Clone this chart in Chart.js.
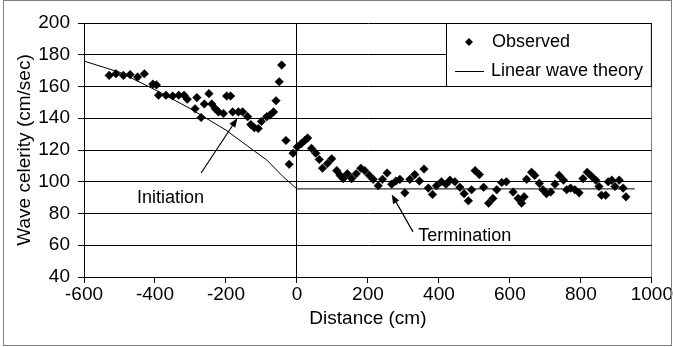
<!DOCTYPE html>
<html>
<head>
<meta charset="utf-8">
<script src="https://cdn.jsdelivr.net/npm/chart.js@4.4.1/dist/chart.umd.min.js"></script>
<style>
  html, body { margin: 0; padding: 0; background: #fff; }
  #wrap { width: 673px; height: 347px; }
</style>
</head>
<body>
<div id="wrap"><canvas id="celerityChart" width="673" height="347"></canvas></div>
<script>
// Observed wave celerity (cm/sec) against distance (cm)
var observedX = [-529, -510, -489, -470, -449, -430, -406, -396, -390, -369, -350, -333, -318, -309,
  -287, -282, -270, -261, -248, -240, -230, -221, -207, -198, -187, -181, -165, -153, -139, -130,
  -120, -109, -100, -85, -76, -66, -59, -50, -43, -31, -22, -11, 1, 12, 22, 30, 41, 53, 63, 72,
  86, 98, 112, 122, 130, 142, 154, 167, 180, 191, 204, 215, 229, 241, 254, 267, 279, 290, 304,
  318, 332, 345, 358, 370, 382, 393, 407, 420, 431, 445, 459, 471, 483, 492, 502, 514, 526, 540,
  552, 563, 577, 590, 609, 623, 633, 640, 647, 661, 670, 683, 693, 703, 715, 727, 739, 751, 760,
  771, 783, 795, 806, 818, 830, 842, 851, 858, 870, 877, 887, 896, 908, 919, 927];
var observedY = [167, 168, 167, 167.5, 166, 168, 161.5, 161, 154.5, 154.5, 154, 154.5, 154.5, 152,
  146, 153, 140.5, 149, 155.5, 149, 146, 144, 143, 154, 154, 144, 144, 144, 141, 136,
  134, 133.5, 138, 141, 142, 144, 151, 163, 173.5, 126, 111, 118, 122, 124, 126, 127.5, 121, 118, 114, 108.5,
  111.5, 114.5, 107, 104, 102, 105, 102, 105, 108.5, 107, 104, 101.5, 97.5, 101.5, 105.5, 98.5, 100.5, 101.5, 93,
  101.5, 104.5, 100.5, 108, 96, 92, 97.5, 100, 98.5, 101, 100, 96.5, 92.5, 88, 95, 107, 104.5, 96.5, 86.5,
  89.5, 95, 99.5, 100, 93.5, 89.5, 86.5, 90.5, 101.5, 106, 104, 99, 95, 92.5, 93.5, 98.5, 104, 101, 95,
  96, 95, 93, 102, 106, 103.5, 101, 97, 91.5, 91.5, 100, 101, 97, 101, 96, 90.5];

// Linear wave theory curve
var theoryX = [-600, -500, -400, -300, -200, -124, -85, -39, 0, 952];
var theoryY = [176, 169, 158, 146, 132.5, 120, 113.7, 103.2, 95.5, 95.5];

// Text notes with arrows (data units)
var noteText = ['Initiation', 'Termination'];
var noteX = [-356, 473];
var noteY = [90, 65.7];
var arrowFromX = [-270, 327];
var arrowFromY = [105.5, 68.4];
var arrowToX = [-168, 267];
var arrowToY = [140, 92];

var seriesNames = ['Observed', 'Linear wave theory'];

var FONT = "'Liberation Sans', Arial, sans-serif";

function toPoints(xs, ys) {
  return xs.map(function(x, i) { return { x: x, y: ys[i] }; });
}

// Arrows and their captions, placed through the scales
var notesPlugin = {
  id: 'notes',
  afterDatasetsDraw: function(chart) {
    var ctx = chart.ctx;
    var xs = chart.scales.x, ys = chart.scales.y;
    ctx.save();
    ctx.strokeStyle = '#000';
    ctx.fillStyle = '#000';
    ctx.lineWidth = 1.2;
    for (var i = 0; i < noteText.length; i++) {
      var x0 = xs.getPixelForValue(arrowFromX[i]), y0 = ys.getPixelForValue(arrowFromY[i]);
      var x1 = xs.getPixelForValue(arrowToX[i]), y1 = ys.getPixelForValue(arrowToY[i]);
      var ang = Math.atan2(y1 - y0, x1 - x0);
      ctx.beginPath();
      ctx.moveTo(x0, y0);
      ctx.lineTo(x1 - 6 * Math.cos(ang), y1 - 6 * Math.sin(ang));
      ctx.stroke();
      ctx.beginPath();
      ctx.moveTo(x1, y1);
      ctx.lineTo(x1 - 9 * Math.cos(ang) + 3.5 * Math.sin(ang), y1 - 9 * Math.sin(ang) - 3.5 * Math.cos(ang));
      ctx.lineTo(x1 - 9 * Math.cos(ang) - 3.5 * Math.sin(ang), y1 - 9 * Math.sin(ang) + 3.5 * Math.cos(ang));
      ctx.closePath();
      ctx.fill();
      ctx.font = '18px ' + FONT;
      ctx.textAlign = 'center';
      ctx.textBaseline = 'middle';
      ctx.fillText(noteText[i], xs.getPixelForValue(noteX[i]), ys.getPixelForValue(noteY[i]));
    }
    ctx.restore();
  }
};

// Boxed legend inside the plot, plus the outer frame
var frameLegendPlugin = {
  id: 'frameLegend',
  afterDraw: function(chart) {
    var ctx = chart.ctx;
    var area = chart.chartArea;
    ctx.save();
    var left = 446.5, top = area.top + 0.5, right = area.right - 0.5, bottom = 86.5;
    ctx.fillStyle = '#fff';
    ctx.fillRect(left, top, right - left, bottom - top);
    ctx.strokeStyle = '#000';
    ctx.lineWidth = 1;
    ctx.strokeRect(left, top, right - left, bottom - top);

    var rowY = [42, 71];
    ctx.font = '18px ' + FONT;
    ctx.textAlign = 'left';
    ctx.textBaseline = 'middle';
    ctx.fillStyle = '#000';
    // diamond marker
    ctx.beginPath();
    ctx.moveTo(469, rowY[0] - 4);
    ctx.lineTo(473, rowY[0]);
    ctx.lineTo(469, rowY[0] + 4);
    ctx.lineTo(465, rowY[0]);
    ctx.closePath();
    ctx.fill();
    ctx.fillText(seriesNames[0], 492, rowY[0]);
    // line sample
    ctx.beginPath();
    ctx.moveTo(455, rowY[1] + 0.5);
    ctx.lineTo(484, rowY[1] + 0.5);
    ctx.stroke();
    ctx.fillText(seriesNames[1], 491, rowY[1]);

    // outer frame
    ctx.strokeStyle = '#808080';
    ctx.strokeRect(3.5, 0.5, 668, 345);
    ctx.restore();
  }
};

var ctx = document.getElementById('celerityChart');
new Chart(ctx, {
  type: 'scatter',
  data: {
    datasets: [
      {
        label: seriesNames[0],
        data: toPoints(observedX, observedY),
        pointStyle: 'rectRot',
        pointRadius: 4.3,
        pointBackgroundColor: '#000',
        pointBorderColor: '#000',
        pointBorderWidth: 0.5,
        showLine: false,
        order: 1
      },
      {
        label: seriesNames[1],
        data: toPoints(theoryX, theoryY),
        showLine: true,
        borderColor: '#000',
        borderWidth: 1,
        pointRadius: 0,
        fill: false,
        tension: 0,
        order: 2
      }
    ]
  },
  options: {
    responsive: false,
    animation: false,
    devicePixelRatio: 1,
    layout: { padding: { left: 0, top: 23, right: 21, bottom: 0 } },
    plugins: {
      legend: { display: false },
      tooltip: { enabled: false }
    },
    scales: {
      x: {
        type: 'linear',
        min: -600,
        max: 1000,
        afterFit: function(s) { s.height = 70; },
        ticks: {
          stepSize: 200,
          color: '#000',
          padding: 0,
          maxRotation: 0,
          font: { family: FONT, size: 19 },
          callback: function(v) { return String(v); }
        },
        grid: {
          color: function(c) {
            if (c.tick && c.tick.value === 0) return '#000';
            if (c.tick && c.tick.value === 1000) return '#808080';
            return 'rgba(0,0,0,0)';
          },
          tickColor: '#000',
          tickLength: 6,
          lineWidth: 1
        },
        border: { color: '#000', width: 1 },
        title: {
          display: true,
          text: 'Distance (cm)',
          color: '#000',
          font: { family: FONT, size: 19 },
          padding: { top: 0, bottom: 17 }
        }
      },
      y: {
        min: 40,
        max: 200,
        afterFit: function(s) { s.width = 84; },
        ticks: {
          stepSize: 20,
          color: '#000',
          padding: 8,
          font: { family: FONT, size: 19 }
        },
        grid: {
          color: '#000',
          tickColor: '#000',
          tickLength: 6,
          lineWidth: 1
        },
        border: { color: '#000', width: 1 },
        title: {
          display: true,
          text: 'Wave celerity (cm/sec)',
          color: '#000',
          font: { family: FONT, size: 19 },
          padding: { top: 13, bottom: 0 }
        }
      }
    }
  },
  plugins: [notesPlugin, frameLegendPlugin]
});
</script>
</body>
</html>
